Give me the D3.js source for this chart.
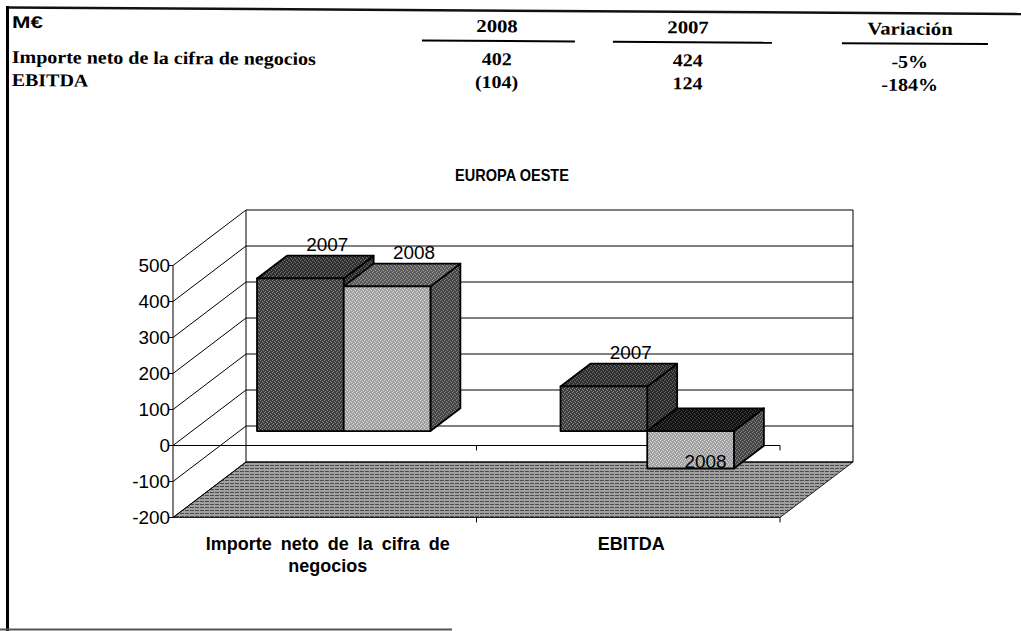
<!DOCTYPE html>
<html>
<head>
<meta charset="utf-8">
<script src="https://cdn.jsdelivr.net/npm/d3@7"></script>
<style>
  body { margin: 0; background: #fff; }
  svg { display: block; }
  .tbl { font-family: "Liberation Serif", "Times New Roman", serif; font-weight: bold; font-size: 18px; }
  .sans { font-family: "Liberation Sans", Arial, sans-serif; }
</style>
</head>
<body>
<svg id="chart"></svg>
<script>
// table above the chart
const tableHeaders = ["2008", "2007", "Variación"];
const tableRowNames = ["Importe neto de la cifra de negocios", "EBITDA"];
const table2008 = ["402", "(104)"];
const table2007 = ["424", "124"];
const tableVariation = ["-5%", "-184%"];

// chart data
const chartTitle = "EUROPA OESTE";
const categories = ["Importe neto de la cifra de negocios", "EBITDA"];
const seriesNames = ["2007", "2008"];
const values2007 = [424, 124];
const values2008 = [402, -104];
const yTicks = [-200, -100, 0, 100, 200, 300, 400, 500];

const W = 1021, H = 631;
const svg = d3.select("#chart").attr("width", W).attr("height", H);
const defs = svg.append("defs");

// stretch text horizontally a bit, like the scanned original
function stretch(sel, k) {
  sel.each(function () {
    const len = this.getComputedTextLength();
    d3.select(this).attr("textLength", len * k).attr("lengthAdjust", "spacingAndGlyphs");
  });
}

// ---- frame ----
svg.append("line").attr("x1", 7).attr("y1", 7.5).attr("x2", W).attr("y2", 14)
  .attr("stroke", "#111").attr("stroke-width", 2.5);
svg.append("line").attr("x1", 7.5).attr("y1", 6).attr("x2", 7.5).attr("y2", H)
  .attr("stroke", "#000").attr("stroke-width", 3);
svg.append("line").attr("x1", 0).attr("y1", 629.5).attr("x2", 452).attr("y2", 629.5)
  .attr("stroke", "#555").attr("stroke-width", 2);

// ---- table ----
const tbl = svg.append("g").attr("class", "tbl").attr("transform", "rotate(0.37, 12, 28)");
const colX = d3.scaleOrdinal().domain(tableHeaders).range([497, 688, 910]);
const underline = { "2008": [422, 575], "2007": [613, 772], "Variación": [842, 988] };

tbl.append("text").attr("class", "sans").attr("x", 12).attr("y", 28)
  .style("font-size", "17px").style("font-weight", "bold").text("M€")
  .call(stretch, 1.3);

tbl.selectAll("text.hdr")
  .data(tableHeaders)
  .join("text")
  .attr("class", "hdr")
  .attr("x", d => colX(d))
  .attr("y", 29)
  .attr("text-anchor", "middle")
  .text(d => d)
  .call(stretch, 1.15);

tbl.selectAll("line.ul")
  .data(tableHeaders)
  .join("line")
  .attr("class", "ul")
  .attr("x1", d => underline[d][0]).attr("x2", d => underline[d][1])
  .attr("y1", 37.8).attr("y2", 37.8)
  .attr("stroke", "#000").attr("stroke-width", 2);

const rowY = d3.scalePoint().domain(tableRowNames).range([63, 86]);
tbl.selectAll("text.rowname")
  .data(tableRowNames)
  .join("text")
  .attr("class", "rowname")
  .attr("x", 12)
  .attr("y", d => rowY(d))
  .text(d => d)
  .call(stretch, 1.11);

const tableCols = [table2008, table2007, tableVariation];
tableCols.forEach((col, ci) => {
  tbl.selectAll("text.c" + ci)
    .data(col)
    .join("text")
    .attr("class", "c" + ci)
    .attr("x", colX(tableHeaders[ci]))
    .attr("y", (d, i) => rowY(tableRowNames[i]) - 1)
    .attr("text-anchor", "middle")
    .text(d => d)
    .call(stretch, 1.11);
});

// ---- chart ----
svg.append("text").attr("class", "sans")
  .attr("x", 512).attr("y", 181)
  .attr("text-anchor", "middle")
  .style("font-size", "16.5px").style("font-weight", "bold")
  .text(chartTitle)
  .call(stretch, 0.88);

const front = { left: 173, right: 780 };
const depth = { dx: 73, dy: -55.5 };
const barFront = 0.26, barBack = 0.67;

const y = d3.scaleLinear().domain([-200, 500]).range([517.5, 265.5]);
const x0 = d3.scaleBand().domain(categories).range([front.left, front.right]);
const x1 = d3.scaleBand().domain(seriesNames).range([0, x0.bandwidth()]).paddingOuter(0.75);

const P = (x, v, d) => [x + d * depth.dx, y(v) + d * depth.dy];
const poly = pts => "M" + pts.map(p => p.join(",")).join("L") + "Z";

// speckled fills, the original is a dithered print
function dither(id, base, speck) {
  const p = defs.append("pattern").attr("id", id)
    .attr("width", 4).attr("height", 4).attr("patternUnits", "userSpaceOnUse");
  p.append("rect").attr("width", 4).attr("height", 4).attr("fill", base);
  [[0, 0], [2, 1], [1, 3], [3, 2]].forEach(([px, py]) => {
    p.append("rect").attr("x", px).attr("y", py).attr("width", 1).attr("height", 1).attr("fill", speck);
  });
  return `url(#${id})`;
}

const floorPat = defs.append("pattern").attr("id", "floorPat")
  .attr("width", 5).attr("height", 3).attr("patternUnits", "userSpaceOnUse");
floorPat.append("rect").attr("width", 5).attr("height", 3).attr("fill", "#a0a0a0");
floorPat.append("rect").attr("width", 4).attr("height", 1).attr("fill", "#4c4c4c");

const yMin = y.domain()[0], yMax = y.domain()[1];

// floor
svg.append("path")
  .attr("d", poly([P(front.left, yMin, 0), P(front.left, yMin, 1), P(front.right, yMin, 1), P(front.right, yMin, 0)]))
  .attr("fill", "url(#floorPat)").attr("stroke", "#222").attr("stroke-width", 1);

const walls = svg.append("g").attr("fill", "none").attr("stroke", "#000").attr("stroke-width", 1);
// back wall gridlines
walls.selectAll("line.grid").data(yTicks).join("line").attr("class", "grid")
  .attr("x1", P(front.left, 0, 1)[0]).attr("x2", P(front.right, 0, 1)[0])
  .attr("y1", d => P(0, d, 1)[1]).attr("y2", d => P(0, d, 1)[1]);
// side wall diagonals
walls.selectAll("line.diag").data(yTicks).join("line").attr("class", "diag")
  .attr("x1", front.left).attr("y1", d => y(d))
  .attr("x2", P(front.left, 0, 1)[0]).attr("y2", d => P(0, d, 1)[1]);
// back wall verticals
[front.left, front.right].forEach(xx => {
  walls.append("line")
    .attr("x1", P(xx, 0, 1)[0]).attr("x2", P(xx, 0, 1)[0])
    .attr("y1", P(xx, yMax, 1)[1]).attr("y2", P(xx, yMin, 1)[1]);
});

// y axis on the front plane
walls.append("line").attr("x1", front.left).attr("x2", front.left)
  .attr("y1", y(yMax)).attr("y2", y(yMin));
walls.selectAll("line.tick").data(yTicks).join("line").attr("class", "tick")
  .attr("x1", front.left - 4).attr("x2", front.left)
  .attr("y1", d => y(d)).attr("y2", d => y(d));
svg.append("g").attr("class", "sans").style("font-size", "18px")
  .selectAll("text").data(yTicks).join("text")
  .attr("x", front.left - 3).attr("y", d => y(d)).attr("dy", "0.36em")
  .attr("text-anchor", "end")
  .text(d => String(d))
  .call(stretch, 1.05);

// zero line and category ticks
const catEdges = categories.map(c => x0(c) + x0.bandwidth());
walls.append("line").attr("x1", front.left).attr("x2", front.right)
  .attr("y1", y(0)).attr("y2", y(0));
walls.selectAll("line.ct").data(catEdges).join("line").attr("class", "ct")
  .attr("x1", d => d).attr("x2", d => d).attr("y1", y(0)).attr("y2", y(0) + 5);
walls.selectAll("line.cb").data(catEdges).join("line").attr("class", "cb")
  .attr("x1", d => d).attr("x2", d => d).attr("y1", y(yMin)).attr("y2", y(yMin) + 5);

// bars
const barData = [];
categories.forEach((c, i) => {
  barData.push({ cat: c, s: "2007", v: values2007[i] });
  barData.push({ cat: c, s: "2008", v: values2008[i] });
});
const faceColors = {
  "2007": { front: dither("d7f", "#3c3c3c", "#8a8a8a"), top: dither("d7t", "#2e2e2e", "#707070"), side: dither("d7s", "#2a2a2a", "#666") },
  "2008": { front: dither("d8f", "#a0a0a0", "#d8d8d8"), top: dither("d8t", "#5a5a5a", "#9a9a9a"), side: dither("d8s", "#444", "#858585") }
};
const negTop = dither("dneg", "#111", "#444");

const bars = svg.append("g").attr("stroke", "#000").attr("stroke-width", 1.8).attr("stroke-linejoin", "round");
barData.forEach(d => {
  const xa = x0(d.cat) + x1(d.s), xb = xa + x1.bandwidth();
  const lo = Math.min(0, d.v), hi = Math.max(0, d.v);
  const col = faceColors[d.s];
  const g = bars.append("g");
  g.append("path").attr("fill", col.side)
    .attr("d", poly([P(xb, lo, barFront), P(xb, hi, barFront), P(xb, hi, barBack), P(xb, lo, barBack)]));
  g.append("path").attr("fill", d.v < 0 ? negTop : col.top)
    .attr("d", poly([P(xa, hi, barFront), P(xb, hi, barFront), P(xb, hi, barBack), P(xa, hi, barBack)]));
  g.append("path").attr("fill", col.front)
    .attr("d", poly([P(xa, lo, barFront), P(xb, lo, barFront), P(xb, hi, barFront), P(xa, hi, barFront)]));

  let lx, ly;
  if (d.v >= 0) {
    lx = xa + x1.bandwidth() / 2 + barBack * depth.dx - 3;
    ly = y(d.v) + barBack * depth.dy - 5;
  } else {
    lx = xa + x1.bandwidth() / 2 + (barFront + barBack) / 2 * depth.dx;
    ly = y(d.v) + barFront * depth.dy - 1;
  }
  svg.append("text").attr("class", "sans").style("font-size", "18px")
    .attr("x", lx).attr("y", ly).attr("text-anchor", "middle")
    .attr("fill", "#000").text(d.s)
    .call(stretch, 1.05);
});

// category labels
function wrap(text, width) {
  text.each(function () {
    const t = d3.select(this);
    const words = t.text().split(/\s+/);
    const cx = t.attr("x"), y0 = +t.attr("y");
    t.text(null);
    let line = [], ln = 0;
    let ts = t.append("tspan").attr("x", cx).attr("y", y0);
    words.forEach(w => {
      line.push(w);
      ts.text(line.join(" "));
      if (ts.node().getComputedTextLength() > width && line.length > 1) {
        line.pop();
        ts.text(line.join(" "));
        line = [w];
        ln++;
        ts = t.append("tspan").attr("x", cx).attr("y", y0 + ln * 22).text(w);
      }
    });
  });
}
svg.append("g").attr("class", "sans").style("font-size", "18px").style("font-weight", "bold")
  .style("word-spacing", "4px")
  .selectAll("text").data(categories).join("text")
  .attr("x", d => x0(d) + x0.bandwidth() / 2 + 3)
  .attr("y", 550)
  .attr("text-anchor", "middle")
  .text(d => d)
  .call(wrap, 280);
</script>
</body>
</html>
